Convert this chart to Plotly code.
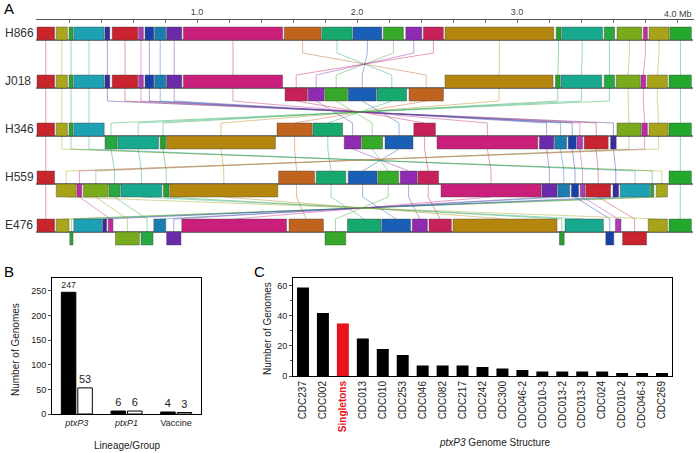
import plotly.graph_objects as go

W, H = 696, 453
FONT = "Arial, Liberation Sans, sans-serif"
INK = "#222222"

# ---- Panel A: locally collinear blocks (Mb), (block id, start, end, strand)
GENOMES = ["H866", "J018", "H346", "H559", "E476"]

BLOCK_COLORS = [
    "#c9252c", "#a8a81a", "#2aa532", "#1ea0b5", "#3b2a9e",
    "#c8232e", "#b03ab8", "#1840a8", "#1a7fb0", "#6a2aaa",
    "#c91f7a", "#c0631e", "#16a86e", "#1a5fb5", "#38a82a",
    "#8e2bb0", "#c8205a", "#b5860e", "#25a030", "#18a88e",
    "#28a840", "#7aab1c", "#c42aa0", "#a9a31a", "#22a82a",
]

H866_BLOCKS = [
    (1, 0.00, 0.11, 1), (2, 0.12, 0.19, 1), (3, 0.20, 0.225, 1), (4, 0.23, 0.42, 1),
    (5, 0.425, 0.455, 1), (6, 0.47, 0.63, 1), (7, 0.635, 0.665, 1), (8, 0.675, 0.73, 1),
    (9, 0.735, 0.805, 1), (10, 0.81, 0.905, 1), (11, 0.915, 1.535, 1), (12, 1.545, 1.775, 1),
    (13, 1.78, 1.97, 1), (14, 1.975, 2.155, 1), (15, 2.165, 2.29, 1), (16, 2.305, 2.405, 1),
    (17, 2.415, 2.54, 1), (18, 2.55, 3.23, 1), (19, 3.245, 3.275, 1), (20, 3.28, 3.535, 1),
    (21, 3.545, 3.61, 1), (22, 3.625, 3.78, 1), (23, 3.79, 3.815, 1), (24, 3.825, 3.95, 1),
    (25, 3.955, 4.09, 1),
]

J018_BLOCKS = [
    (1, 0.00, 0.11, 1), (2, 0.12, 0.19, 1), (3, 0.20, 0.225, 1), (4, 0.23, 0.42, 1),
    (5, 0.425, 0.455, 1), (6, 0.47, 0.63, 1), (7, 0.635, 0.665, 1), (8, 0.675, 0.73, 1),
    (9, 0.735, 0.805, 1), (10, 0.81, 0.905, 1), (11, 0.915, 1.535, 1),
    (17, 1.55, 1.69, -1), (16, 1.695, 1.795, -1), (15, 1.80, 1.94, -1), (14, 1.945, 2.12, -1),
    (13, 2.125, 2.31, -1), (12, 2.325, 2.54, -1),
    (18, 2.55, 3.225, 1), (19, 3.24, 3.27, 1), (20, 3.275, 3.53, 1), (21, 3.545, 3.61, 1),
    (22, 3.62, 3.77, 1), (23, 3.775, 3.805, 1), (24, 3.815, 3.94, 1), (25, 3.95, 4.09, 1),
]

H346_BLOCKS = [
    (1, 0.00, 0.11, 1), (2, 0.12, 0.19, 1), (3, 0.20, 0.225, 1), (4, 0.23, 0.42, 1),
    (21, 0.425, 0.50, -1), (20, 0.505, 0.76, -1), (19, 0.77, 0.805, -1), (18, 0.81, 1.49, -1),
    (12, 1.50, 1.72, 1), (13, 1.725, 1.91, 1),
    (16, 1.92, 2.025, -1), (15, 2.03, 2.16, -1), (14, 2.175, 2.35, -1),
    (17, 2.355, 2.49, 1),
    (11, 2.50, 3.13, -1), (10, 3.14, 3.23, -1), (9, 3.235, 3.31, -1), (8, 3.32, 3.37, -1),
    (7, 3.375, 3.41, -1), (6, 3.42, 3.57, -1), (5, 3.585, 3.62, -1),
    (22, 3.625, 3.775, 1), (23, 3.78, 3.815, 1), (24, 3.825, 3.945, 1), (25, 3.95, 4.09, 1),
]

H559_BLOCKS = [
    (1, 0.00, 0.11, 1),
    (24, 0.12, 0.245, -1), (23, 0.25, 0.28, -1), (22, 0.29, 0.445, -1), (21, 0.45, 0.52, -1),
    (20, 0.525, 0.78, -1), (19, 0.79, 0.825, -1), (18, 0.83, 1.505, -1),
    (12, 1.51, 1.735, 1), (13, 1.745, 1.93, 1), (14, 1.945, 2.125, 1), (15, 2.13, 2.26, 1),
    (16, 2.27, 2.375, 1), (17, 2.38, 2.51, 1),
    (11, 2.525, 3.15, -1), (10, 3.155, 3.25, -1), (9, 3.255, 3.33, -1), (8, 3.34, 3.385, -1),
    (7, 3.395, 3.425, -1), (6, 3.43, 3.585, -1), (5, 3.60, 3.635, -1), (4, 3.645, 3.83, -1),
    (3, 3.835, 3.855, -1), (2, 3.87, 3.94, -1),
    (25, 3.95, 4.09, 1),
]

E476_BLOCKS = [
    (1, 0.00, 0.11, 1), (2, 0.12, 0.20, 1), (3, 0.205, 0.225, -1),
    (4, 0.23, 0.405, 1), (5, 0.41, 0.435, 1), (23, 0.445, 0.475, 1),
    (22, 0.49, 0.64, -1), (21, 0.65, 0.725, -1), (9, 0.73, 0.805, 1), (10, 0.81, 0.90, -1),
    (11, 0.905, 1.56, 1), (12, 1.575, 1.79, 1), (15, 1.80, 1.93, -1),
    (13, 1.94, 2.15, 1), (14, 2.155, 2.335, 1), (16, 2.345, 2.44, 1), (17, 2.45, 2.59, 1),
    (18, 2.60, 3.25, 1), (19, 3.265, 3.295, -1), (20, 3.30, 3.54, 1), (8, 3.555, 3.605, -1),
    (7, 3.615, 3.65, 1), (6, 3.66, 3.81, -1), (24, 3.82, 3.94, 1), (25, 3.95, 4.09, 1),
]

GENOME_BLOCKS = [H866_BLOCKS, J018_BLOCKS, H346_BLOCKS, H559_BLOCKS, E476_BLOCKS]
GENOME_LENGTH = 4.09
AXIS_TICKS = [0.2 * k for k in range(1, 21)]
AXIS_LABELS = {1.0: "1.0", 2.0: "2.0", 3.0: "3.0"}
LAST_LABEL = "4.0 Mb"

# ---- Panel B
LINEAGES = ["<i>ptxP3</i>", "<i>ptxP1</i>", "Vaccine"]
B_BLACK = [247, 6, 4]
B_WHITE = [53, 6, 3]

# ---- Panel C
STRUCTURES = ["CDC237", "CDC002", "Singletons", "CDC013", "CDC010", "CDC253", "CDC046",
              "CDC082", "CDC217", "CDC242", "CDC300", "CDC046-2", "CDC010-3", "CDC013-2",
              "CDC013-3", "CDC024", "CDC010-2", "CDC046-3", "CDC269"]
STRUCTURE_COUNTS = [59, 42, 35, 25, 18, 14, 7, 7, 7, 6, 5, 4, 3, 3, 3, 3, 2, 2, 2]


def px_x(p):
    return p / W


def px_y(p):
    return 1 - p / H


# layout (pixel units for panel A vertical positions)
TRACK_Y0, TRACK_STEP, BLOCK_H = 40, 48, 13


def track_base(i):
    return TRACK_Y0 + TRACK_STEP * i


def note(text, x, y, size=10, angle=0, xanchor="center", color=INK):
    return dict(x=px_x(x), y=px_y(y), xref="paper", yref="paper", text=text,
                showarrow=False, xanchor=xanchor, yanchor="middle", textangle=angle,
                font=dict(size=size, color=color))


fig = go.Figure()
shapes = []

# connecting lines, one per block, threaded through all genomes
for bid, color in enumerate(BLOCK_COLORS, start=1):
    xs, ys = [], []
    for gi, blocks in enumerate(GENOME_BLOCKS):
        for b, s, e, strand in blocks:
            if b != bid:
                continue
            cx = (s + e) / 2
            base = track_base(gi)
            top = base if gi == 0 else base - BLOCK_H
            bot = base if gi == len(GENOME_BLOCKS) - 1 else base + BLOCK_H
            xs += [cx, cx]
            ys += [top, bot]
    fig.add_trace(go.Scatter(
        x=xs, y=ys, mode="lines", xaxis="x", yaxis="y",
        line=dict(color=color, width=0.8), opacity=0.55, hoverinfo="skip",
    ))

for gi, blocks in enumerate(GENOME_BLOCKS):
    base = track_base(gi)
    shapes.append(dict(type="line", xref="x", yref="y", x0=-0.006, x1=GENOME_LENGTH + 0.01,
                       y0=base, y1=base, line=dict(color="#555555", width=1.5)))
    for b, s, e, strand in blocks:
        y0, y1 = (base - BLOCK_H, base) if strand > 0 else (base, base + BLOCK_H)
        shapes.append(dict(type="rect", xref="x", yref="y", x0=s, x1=e, y0=y0, y1=y1,
                           fillcolor=BLOCK_COLORS[b - 1],
                           line=dict(color="rgba(70,70,70,0.7)", width=0.6)))

# Panel B bars
fig.add_trace(go.Bar(
    x=LINEAGES, y=B_BLACK, xaxis="x2", yaxis="y2",
    marker=dict(color="black", line=dict(color="black", width=1)),
    text=[str(v) for v in B_BLACK], textposition="outside", cliponaxis=False,
    textfont=dict(size=11, color=INK),
))
fig.add_trace(go.Bar(
    x=LINEAGES, y=B_WHITE, xaxis="x2", yaxis="y2",
    marker=dict(color="white", line=dict(color="black", width=1)),
    text=[str(v) for v in B_WHITE], textposition="outside", cliponaxis=False,
    textfont=dict(size=11, color=INK),
))

# Panel C bars
c_colors = ["#e8141b" if s == "Singletons" else "black" for s in STRUCTURES]
c_ticktext = ["<b><span style='color:#e8141b'>Singletons</span></b>" if s == "Singletons" else s
              for s in STRUCTURES]
fig.add_trace(go.Bar(
    x=STRUCTURES, y=STRUCTURE_COUNTS, xaxis="x3", yaxis="y3",
    marker=dict(color=c_colors, line=dict(width=0)), width=0.6,
))

annotations = [note(name, 3, track_base(gi) - 7, size=12, xanchor="left", color="#333333")
               for gi, name in enumerate(GENOMES)]
annotations += [note(letter, lx, ly, size=15, xanchor="left", color="black")
                for letter, lx, ly in [("A", 2, 9), ("B", 2, 271), ("C", 252, 271)]]
annotations += [
    note(LAST_LABEL, 694, 14, size=9, xanchor="right", color="#444444"),
    note("Lineage/Group", 127, 445),
    note("Number of Genomes", 15, 350, angle=-90),
    note("<i>ptxP3</i> Genome Structure", 495, 442),
    note("Number of Genomes", 267, 329, angle=-90),
]

box = dict(showline=True, linecolor="black", linewidth=1, mirror=True, automargin=False,
           showgrid=False, zeroline=False, tickfont=dict(size=9, color=INK))

fig.update_layout(
    width=W, height=H,
    margin=dict(l=0, r=0, t=0, b=0, autoexpand=False),
    paper_bgcolor="white", plot_bgcolor="white",
    font=dict(family=FONT, color=INK),
    showlegend=False,
    barmode="group", bargap=0.336, bargroupgap=0.12,
    shapes=shapes, annotations=annotations,
    xaxis=dict(domain=[px_x(36), px_x(694)], range=[-0.00625, 4.10625], anchor="y",
               side="top", showline=True, linecolor="#555555", linewidth=1, automargin=False,
               showgrid=False, zeroline=False, ticks="inside", ticklen=3, tickcolor="#777777",
               tickvals=AXIS_TICKS,
               ticktext=[AXIS_LABELS.get(round(t, 1), "") for t in AXIS_TICKS],
               tickfont=dict(size=9, color="#444444")),
    yaxis=dict(domain=[px_y(250), px_y(20)], range=[250, 20], anchor="x", visible=False),
    xaxis2=dict(domain=[px_x(52), px_x(201)], anchor="y2", ticks="", **box),
    yaxis2=dict(domain=[px_y(414), px_y(278)], range=[0, 276], anchor="x2",
                tickvals=[0, 50, 100, 150, 200, 250], ticks="outside", ticklen=3, **box),
    xaxis3=dict(domain=[px_x(293), px_x(672)], anchor="y3", ticks="", tickangle=-90,
                categoryorder="array", categoryarray=STRUCTURES,
                tickvals=STRUCTURES, ticktext=c_ticktext,
                **{**box, "tickfont": dict(size=10, color=INK)}),
    yaxis3=dict(domain=[px_y(376), px_y(278)], range=[0, 65.3], anchor="x3",
                tickvals=[0, 20, 40, 60], ticks="outside", ticklen=3,
                minor=dict(dtick=10, ticks="outside", ticklen=2), **box),
)

fig.write_html("out.html", config={"displayModeBar": False},
               post_script="document.body.style.margin='0';")
